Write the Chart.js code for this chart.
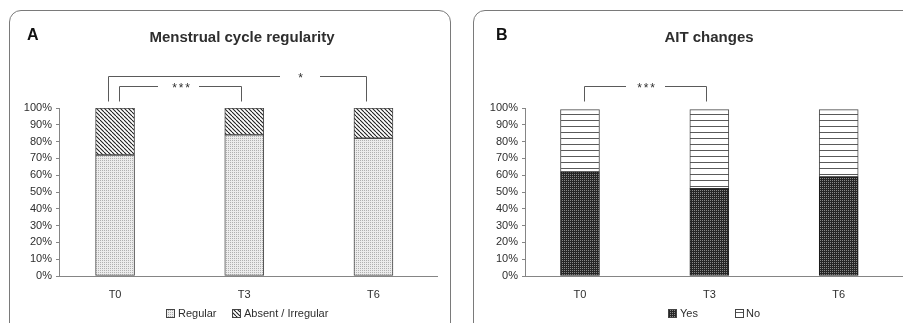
<!DOCTYPE html>
<html>
<head>
<meta charset="utf-8">
<script src="https://cdn.jsdelivr.net/npm/chart.js@4.4.1/dist/chart.umd.min.js"></script>
<style>
  html, body { margin: 0; padding: 0; background: #fff; overflow: hidden; }
  body { width: 903px; height: 323px; position: relative; }
  .panel { position: absolute; border: 1px solid #7a7a7a; border-radius: 12px; }
  #pA { left: 9px; top: 10px; width: 440px; height: 330px; }
  #pB { left: 473px; top: 10px; width: 460px; height: 330px; }
  canvas { position: absolute; top: 0; }
  #cA { left: 0; }
  #cB { left: 452px; }
</style>
</head>
<body>
<div class="panel" id="pA"></div>
<div class="panel" id="pB"></div>
<canvas id="cA" width="451" height="323"></canvas>
<canvas id="cB" width="451" height="323"></canvas>
<script>
// ---- data ----
const categories = ['T0', 'T3', 'T6'];
const regular = [72, 84, 82];
const absentIrregular = [28, 16, 18];
const aitYes = [62, 52, 59];
const aitNo = [37, 47, 40];
const yTickStep = 10;

const FONT = "'Liberation Sans', Arial, Helvetica, sans-serif";
const TXT = '#2e2e2e';
const AXIS = '#858585';

function makePattern(w, h, draw) {
  const c = document.createElement('canvas');
  c.width = w; c.height = h;
  const g = c.getContext('2d');
  draw(g, w, h);
  return g.createPattern(c, 'repeat');
}
const patRegular = makePattern(2, 2, (g) => {
  g.fillStyle = '#ececec'; g.fillRect(0, 0, 2, 2);
  g.fillStyle = '#b0b0b0'; g.fillRect(0, 0, 1, 1);
});
const patAbsent = makePattern(4, 4, (g, w, h) => {
  g.fillStyle = '#ffffff'; g.fillRect(0, 0, w, h);
  g.strokeStyle = '#1e1e1e'; g.lineWidth = 1.1;
  for (const o of [-w, 0, w]) {
    g.beginPath(); g.moveTo(o, 0); g.lineTo(o + w, h); g.stroke();
  }
});
const patYes = makePattern(2, 2, (g) => {
  g.fillStyle = '#262626'; g.fillRect(0, 0, 2, 2);
  g.fillStyle = '#8a8a8a'; g.fillRect(0, 0, 1, 1);
});
const patNo = makePattern(6, 6, (g) => {
  g.fillStyle = '#ffffff'; g.fillRect(0, 0, 6, 6);
  g.fillStyle = '#5a5a5a'; g.fillRect(0, 0, 6, 1);
});

function pts(arr) { return arr.map((v, i) => ({ x: i, y: v })); }

function buildChart(canvasId, opts) {
  const annot = {
    id: 'annot',
    afterDraw(chart) {
      const ctx = chart.ctx;
      const xs = chart.scales.x;
      ctx.save();
      // panel letter
      ctx.fillStyle = '#111';
      ctx.font = 'bold 16px ' + FONT;
      ctx.textAlign = 'left'; ctx.textBaseline = 'alphabetic';
      ctx.fillText(opts.letter, opts.letterX, 39.5);
      // title
      ctx.fillStyle = TXT;
      ctx.font = 'bold 15px ' + FONT;
      ctx.textAlign = 'center';
      ctx.fillText(opts.title, opts.titleX, 41.5);
      // brackets
      ctx.strokeStyle = '#5a5a5a'; ctx.lineWidth = 1;
      for (const b of opts.brackets) {
        const x1 = Math.round(xs.getPixelForValue(b.from) + b.dx1) + 0.5;
        const x2 = Math.round(xs.getPixelForValue(b.to) + b.dx2) + 0.5;
        const y = b.y + 0.5, yb = 101.5;
        ctx.beginPath();
        ctx.moveTo(x1, yb); ctx.lineTo(x1, y); ctx.lineTo(b.gap1, y);
        ctx.moveTo(b.gap2, y); ctx.lineTo(x2, y); ctx.lineTo(x2, yb);
        ctx.stroke();
        ctx.fillStyle = TXT;
        ctx.font = '12px ' + FONT;
        ctx.textAlign = 'center'; ctx.textBaseline = 'middle';
        const n = b.stars;
        for (let k = 0; k < n; k++) {
          ctx.fillText('*', b.starX + (k - (n - 1) / 2) * 6.5, y + 2.5);
        }
      }
      // legend
      ctx.font = '11px ' + FONT;
      ctx.textAlign = 'left'; ctx.textBaseline = 'middle';
      chart.data.datasets.forEach((ds, i) => {
        const lx = opts.legendX[i];
        ctx.fillStyle = ds.backgroundColor;
        ctx.fillRect(lx.box, 309, 8, 8);
        ctx.strokeStyle = '#444';
        ctx.strokeRect(lx.box + 0.5, 309.5, 8, 8);
        ctx.fillStyle = TXT;
        ctx.fillText(ds.label, lx.text, 313.5);
      });
      ctx.restore();
    }
  };

  return new Chart(document.getElementById(canvasId), {
    type: 'bar',
    data: {
      datasets: opts.series.map(s => ({
        label: s.label,
        data: pts(s.values),
        backgroundColor: s.pattern,
        borderColor: s.border,
        borderWidth: 1,
        borderSkipped: false,
        barThickness: 39
      }))
    },
    options: {
      responsive: false,
      animation: false,
      devicePixelRatio: 1,
      layout: { padding: { left: 0, top: 108, right: opts.padRight, bottom: 17 } },
      plugins: { legend: { display: false }, tooltip: { enabled: false }, title: { display: false } },
      scales: {
        x: {
          type: 'linear', stacked: true, offset: false,
          min: opts.xMin, max: opts.xMax,
          grid: { display: true, drawOnChartArea: false, drawTicks: false, offset: false },
          border: { display: true, color: AXIS, width: 1 },
          afterBuildTicks(scale) { scale.ticks = categories.map((c, i) => ({ value: i })); },
          afterFit(scale) { scale.height = 30; },
          ticks: {
            padding: 12, color: TXT, font: { family: FONT, size: 11 },
            autoSkip: false, maxRotation: 0,
            callback: (v) => categories[v]
          }
        },
        y: {
          stacked: true, min: 0, max: 100,
          afterFit(scale) { scale.width = opts.yWidth; },
          grid: { display: true, drawOnChartArea: false, drawTicks: true, tickLength: 3, color: AXIS },
          border: { display: true, color: AXIS, width: 1 },
          ticks: {
            stepSize: yTickStep, padding: 4, color: TXT,
            font: { family: FONT, size: 11 },
            callback: (v) => v + '%'
          }
        }
      }
    },
    plugins: [annot]
  });
}

buildChart('cA', {
  letter: 'A', letterX: 27, title: 'Menstrual cycle regularity', titleX: 242,
  yWidth: 59, padRight: 14, xMin: -0.434, xMax: 2.492,
  series: [
    { label: 'Regular', values: regular, pattern: patRegular, border: '#4a4a4a' },
    { label: 'Absent / Irregular', values: absentIrregular, pattern: patAbsent, border: '#4a4a4a' }
  ],
  legendX: [{ box: 166, text: 178 }, { box: 232, text: 244 }],
  brackets: [
    { from: 0, to: 2, dx1: -7, dx2: -7, y: 76, gap1: 280, gap2: 320, starX: 300.5, stars: 1 },
    { from: 0, to: 1, dx1: 4, dx2: -3, y: 86, gap1: 158, gap2: 199, starX: 181, stars: 3 }
  ]
});

buildChart('cB', {
  letter: 'B', letterX: 496 - 452, title: 'AIT changes', titleX: 709 - 452,
  yWidth: 73, padRight: 0, xMin: -0.425, xMax: 2.497,
  series: [
    { label: 'Yes', values: aitYes, pattern: patYes, border: '#1a1a1a' },
    { label: 'No', values: aitNo, pattern: patNo, border: '#4a4a4a' }
  ],
  legendX: [{ box: 668 - 452, text: 680 - 452 }, { box: 735 - 452, text: 746 - 452 }],
  brackets: [
    { from: 0, to: 1, dx1: 4, dx2: -3, y: 86, gap1: 626 - 452, gap2: 665 - 452, starX: 646 - 452, stars: 3 }
  ]
});
</script>
</body>
</html>
